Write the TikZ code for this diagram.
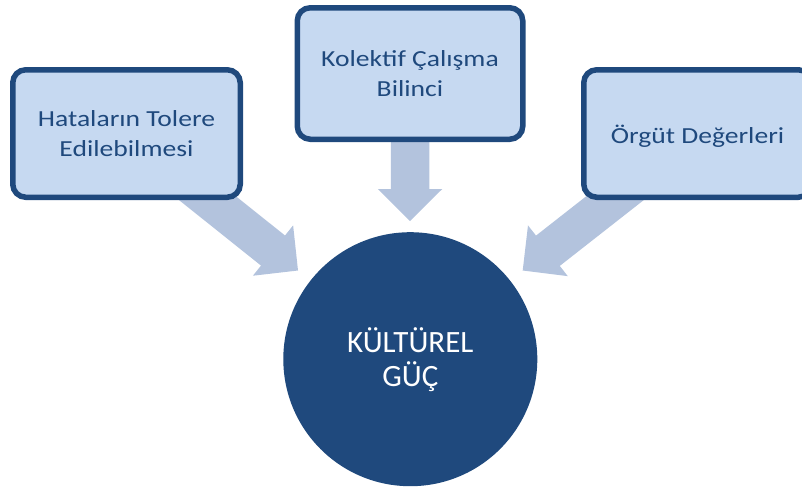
\documentclass[tikz,border=0pt]{standalone}
\usepackage{fontspec}
\setmainfont{Carlito}
\newfontfamily\boxfont{Carlito}[FakeStretch=1.2]
\usetikzlibrary{calc,backgrounds}

\definecolor{boxfill}{HTML}{C6D9F1}
\definecolor{navy}{HTML}{1F497D}
\definecolor{arrowfill}{HTML}{B3C3DD}

% Block arrow from node #1 to tip coordinate #2; #3 prefixes helper names
\newcommand\blockarrow[3]{%
  \coordinate (#3hb) at ($(#2)!32pt!(#1)$);
  \fill[arrowfill]
    ($(#1)!19.25pt!90:(#2)$) --
    ($(#3hb)!19.25pt!90:(#2)$) --
    ($(#3hb)!32.25pt!90:(#2)$) --
    (#2) --
    ($(#3hb)!32.25pt!-90:(#2)$) --
    ($(#3hb)!19.25pt!-90:(#2)$) --
    ($(#1)!19.25pt!-90:(#2)$) -- cycle;
}

\tikzset{
  idea/.style={draw=navy, line width=5.5pt, fill=boxfill, rounded corners=13pt,
    inner sep=0pt, text=navy, align=center,
    font=\boxfont\fontsize{23}{30}\selectfont},
  core/.style={circle, fill=navy, text=white, inner sep=0pt, minimum size=254pt,
    align=center, font=\fontsize{31}{34}\selectfont},
}

\begin{document}
\begin{tikzpicture}[x=1pt, y=-1pt]
  \clip (0,0) rectangle (802,488);

  \node[idea, minimum width=227.5pt, minimum height=127.5pt] (hata) at (126.5,133.5)
    {Hataların Tolere\\Edilebilmesi};
  \node[idea, minimum width=225.5pt, minimum height=131.5pt] (kolektif) at (410,73.5)
    {Kolektif Çalışma\\Bilinci};
  \node[idea, minimum width=227.5pt, minimum height=127.5pt,
        text height=19.6pt, text depth=0pt] (orgut) at (697.5,133.5)
    {Örgüt Değerleri};

  \node[core] (kultur) at (410.3,359.2) {KÜLTÜREL\\GÜÇ};

  \coordinate (tipL) at (298,270.5);
  \coordinate (tipM) at (410,221);
  \coordinate (tipR) at (522.7,270.5);

  \begin{pgfonlayer}{background}
    \blockarrow{hata.center}{tipL}{aL}
    \blockarrow{kolektif.center}{tipM}{aM}
    \blockarrow{orgut.center}{tipR}{aR}
  \end{pgfonlayer}
\end{tikzpicture}
\end{document}
